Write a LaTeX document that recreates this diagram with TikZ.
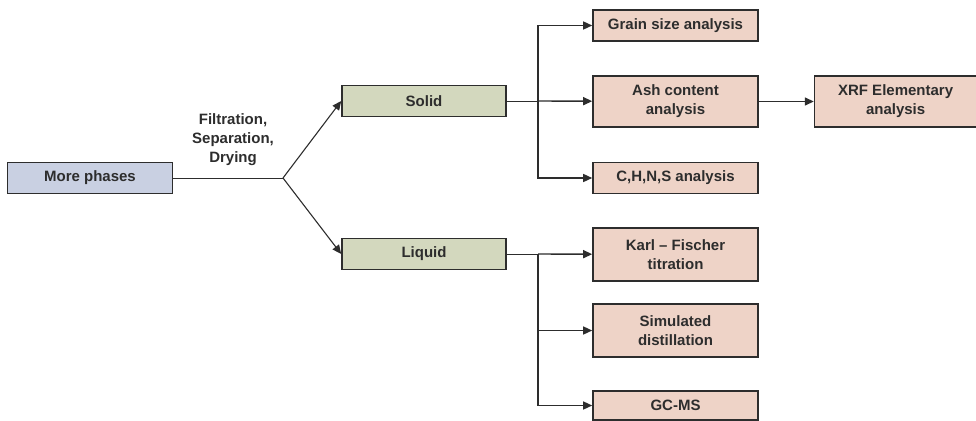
\documentclass[tikz,border=0pt]{standalone}
\usepackage{fontspec}
\setmainfont{Liberation Sans}
\usetikzlibrary{positioning, arrows.meta}
\definecolor{phaseblue}{RGB}{201,208,226}
\definecolor{phasegreen}{RGB}{211,216,190}
\definecolor{testpink}{RGB}{238,211,199}
\definecolor{inkgray}{RGB}{45,45,45}

\begin{document}
\begin{tikzpicture}[
        x=1pt, y=-1pt,
        node distance=55pt,
        every node/.style={
            font=\fontsize{15}{19}\selectfont\bfseries,
            text=inkgray
        },
        box/.style={
            rectangle,
            draw=inkgray,
            line width=1.6pt,
            align=center,
            inner sep=0pt,
            minimum width=165pt,
            minimum height=31pt
        },
        start/.style={box, fill=phaseblue},
        phase/.style={box, fill=phasegreen, minimum width=164pt},
        test/.style={box, fill=testpink},
        tall/.style={minimum height=51pt},
        feed/.style={
            draw=inkgray,
            line width=0.9pt
        },
        arrow/.style={
            -{Triangle[length=9pt,width=8pt]},
            draw=inkgray,
            line width=1.4pt
        }
    ]

        \useasboundingbox (0,0) rectangle (976,420);

        \node[start] (more) at (90,178) {More phases};
        \node[phase] (solid) at (424,101) {Solid};
        \node[phase] (liquid) at (424,254) {Liquid};

        \coordinate (split) at (283,178);
        \node[align=center] (process) at (233,140) {Filtration,\\Separation,\\Drying};

        % solid part
        \node[test] (grain) at (675.5,25.5) {Grain size analysis};
        \node[test, tall] (ash) at (675.5,101.5) {Ash content\\analysis};
        \node[test] (chns) at (675.5,178) {C,H,N,S analysis};
        \node[test, tall, minimum width=162pt, right=of ash] (xrf) {XRF Elementary\\analysis};

        % liquid part
        \node[test, tall, minimum height=53pt] (karl) at (675.5,254.5) {Karl -- Fischer\\titration};
        \node[test, tall, minimum height=53pt] (sim) at (675.5,330.5) {Simulated\\distillation};
        \node[test, minimum height=29pt] (gcms) at (675.5,405.5) {GC-MS};

        \coordinate (sjoin) at (538,101);
        \coordinate (ljoin) at (538,254);

        \draw[feed] (more) -- (split);
        \draw[arrow, line width=1.1pt] (split) -- (solid.west);
        \draw[arrow, line width=1.1pt] (split) -- (liquid.west);

        \draw[feed] (solid) -- (sjoin);
        \draw[arrow] (sjoin) |- (grain.west);
        \draw[arrow] (sjoin) -- (ash);
        \draw[arrow] (sjoin) |- (chns.west);
        \draw[arrow] (ash) -- (xrf);

        \draw[feed] (liquid) -- (ljoin);
        \draw[arrow] (ljoin) -- (karl);
        \draw[arrow] (ljoin) |- (sim.west);
        \draw[arrow] (ljoin) |- (gcms.west);

    \end{tikzpicture}
\end{document}
